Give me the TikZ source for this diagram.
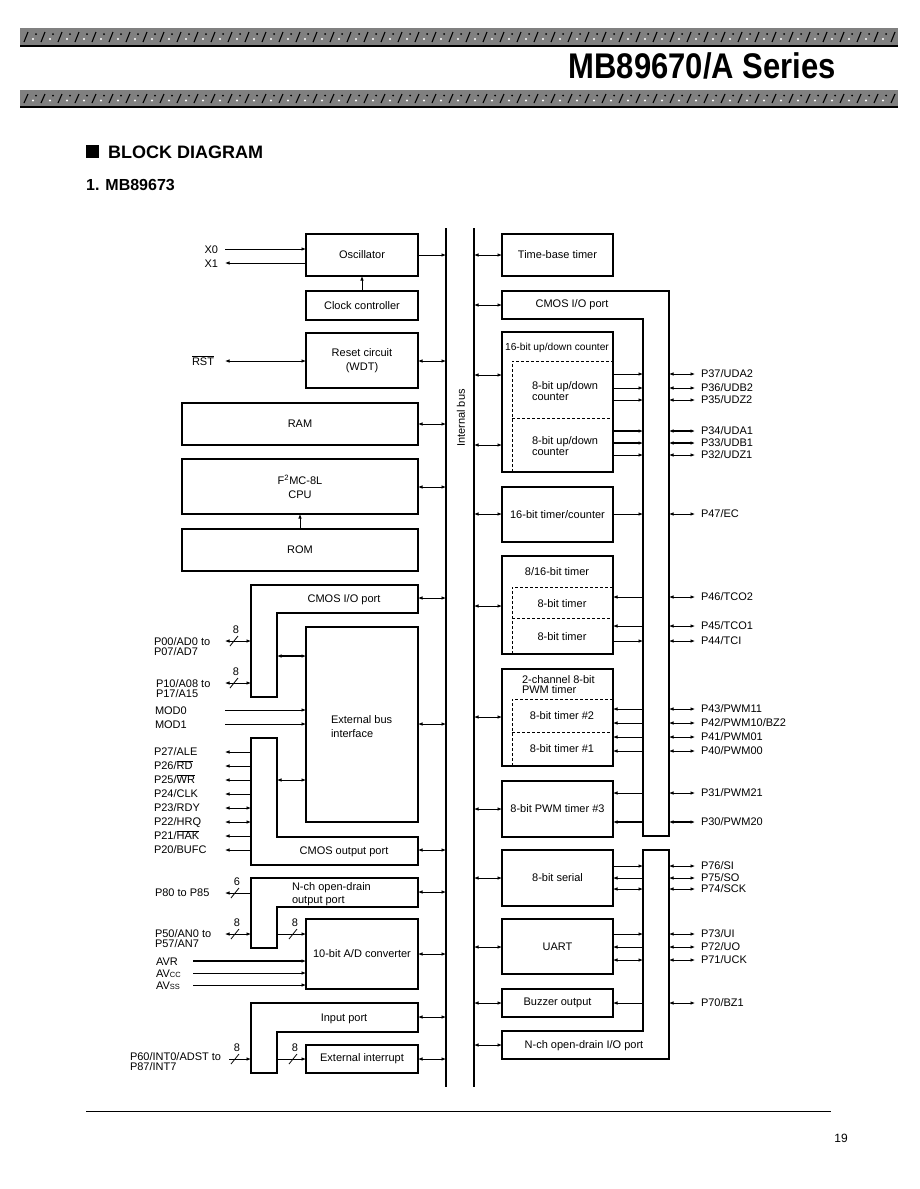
\documentclass[tikz,border=0pt]{standalone}
\usepackage{fontspec}
\setmainfont{Liberation Sans}
\usetikzlibrary{arrows.meta}
\definecolor{barg}{RGB}{128,128,128}
\newcommand\fs{\fontsize{11}{14}\selectfont}
\newcommand\twol[3]{{\fontsize{11}{#1}\selectfont\begin{tabular}[t]{@{}l@{}}#2\\#3\end{tabular}}}
\newcommand\ovl[1]{$\overline{\mbox{#1}}$}
\newcommand\hl[4]{\draw[#1] (#2 |- 0,#4) -- (#3 |- 0,#4);}
\newcommand\slsh[4]{\draw[sig] (#1-4,#2+5) -- (#1+4,#2-5); \node[lbc] (#4) at (#1+2,#2-8) {#3};}
\newcommand\rpin[5]{\node[lb] (#1) at (701,#2+3.9) {#3}; \draw[#4,<->] (rpO |- 0,#2) -- (pinR |- 0,#2); \draw[#4,#5] (rpI |- 0,#2) -- (rbox |- 0,#2);}
\newcommand\lpin[5]{\node[lb] (#1) at (#2,#3+3.9) {#4}; \draw[sig,#5] (pinL |- 0,#3) -- (lpO |- 0,#3);}
\begin{document}
\begin{tikzpicture}[x=1pt,y=-1pt,>={Latex[length=4.5pt,width=3.6pt]},
 box/.style={draw,line width=1.7pt,inner sep=1pt,outer sep=0pt,anchor=north west,font=\fs,align=center},
 port/.style={draw,line width=1.7pt,line join=miter},
 sig/.style={line width=0.8pt},
 tsig/.style={line width=1.8pt},
 busline/.style={line width=2.5pt},
 dsh/.style={line width=0.8pt,dash pattern=on 3pt off 2pt},
 lb/.style={font=\fs,inner sep=0pt,outer sep=0pt,anchor=base west},
 lbe/.style={lb,anchor=base east},
 lbc/.style={lb,anchor=base},
 tx/.style={font=\fs,inner sep=0pt,outer sep=0pt},
]
\useasboundingbox[fill=white] (0,0) rectangle (919,1189);

% ---------- header ----------
\foreach \ya/\yb in {28/46,90/107}{
  \begin{scope}
  \clip (20,\ya) rectangle (898,\yb);
  \fill[barg] (20,\ya) rectangle (898,\yb);
  \foreach \i in {0,...,52}{
    \draw[line width=1.1pt] ({24+\i*17},{\yb-4}) -- ({28+\i*17},{\ya+4});
    \fill[white] ({33+\i*17},{(\ya+\yb)/2+2}) circle (1.1);
    \fill ({36+\i*17},{(\ya+\yb)/2-3}) circle (1.0);
  }
  \end{scope}
  \draw[line width=1.4pt] (20,\yb) -- (898,\yb);
}
\node[anchor=base east,inner sep=0pt,font=\fontsize{31}{31}\selectfont\bfseries] (ttl) at (836,78) {\scalebox{1}[1.15]{MB89670/A Series}};
\fill (86,145) rectangle (99,158);
\node[anchor=base west,inner sep=0pt,font=\fontsize{18}{18}\selectfont\bfseries] (bd) at (108,158) {BLOCK DIAGRAM};
\node[anchor=base west,inner sep=0pt,font=\fontsize{16}{16}\selectfont\bfseries] (sub) at (86,190) {1. MB89673};

% ---------- reference coordinates ----------
\coordinate (busL) at (446,0);
\coordinate (busR) at (474,0);
\coordinate (lpR) at (418,0);
\coordinate (lpO) at (251,0);
\coordinate (lpI) at (277,0);
\coordinate (pinL) at (225,0);
\coordinate (pinL2) at (229,0);
\coordinate (avL) at (193,0);
\coordinate (rbox) at (613,0);
\coordinate (rbL) at (502,0);
\coordinate (rpI) at (643,0);
\coordinate (rpO) at (669,0);
\coordinate (pinR) at (695,0);

% ---------- internal bus ----------
\draw[busline] (446,228) -- (446,1087);
\draw[busline] (474,228) -- (474,1087);
\node[tx,rotate=90] (ib) at (461,418) {Internal bus};

% ---------- left blocks ----------
\node[box,minimum width=112pt,minimum height=42pt] (osc) at (306,234) {Oscillator};
\node[box,minimum width=112pt,minimum height=29pt] (clk) at (306,291) {Clock controller};
\node[box,minimum width=112pt,minimum height=55pt] (rst) at (306,333) {Reset circuit\\(WDT)};
\node[box,minimum width=236pt,minimum height=42pt] (ram) at (182,403) {RAM};
\node[box,minimum width=236pt,minimum height=55pt] (cpu) at (182,459) {F\textsuperscript{2}MC-8L\\CPU};
\node[box,minimum width=236pt,minimum height=42pt] (rom) at (182,529) {ROM};
\node[box,minimum width=112pt,minimum height=195pt] (ebi) at (306,627) {};
\node[lb] (ebit) at (331,723) {\twol{14}{External bus}{interface}};
\node[box,minimum width=112pt,minimum height=70pt] (adc) at (306,919) {10-bit A/D converter};
\node[box,minimum width=112pt,minimum height=28pt] (eint) at (306,1045) {External interrupt};

% left L-shaped ports
\draw[port] (251,585) -- (418,585) -- (418,613) -- (277,613) -- (277,697) -- (251,697) -- cycle;
\node[tx] (iopl) at (344,600) {CMOS I/O port};
\draw[port] (251,738) -- (277,738) -- (277,837) -- (418,837) -- (418,865) -- (251,865) -- cycle;
\node[tx] (oopl) at (344,852) {CMOS output port};
\draw[port] (251,878) -- (418,878) -- (418,907) -- (277,907) -- (277,948) -- (251,948) -- cycle;
\node[lb] (nopl) at (292,890) {\twol{13}{N-ch open-drain}{output port}};
\draw[port] (251,1003) -- (418,1003) -- (418,1032) -- (277,1032) -- (277,1073) -- (251,1073) -- cycle;
\node[tx] (inpl) at (344,1019) {Input port};

% left bus connectors
\hl{sig,->}{osc.east}{busL}{255}
\hl{sig,<->}{rst.east}{busL}{361}
\hl{sig,<->}{ram.east}{busL}{424}
\hl{sig,<->}{cpu.east}{busL}{487}
\hl{sig,<->}{lpR}{busL}{598}
\hl{sig,<->}{ebi.east}{busL}{724}
\hl{sig,<->}{lpR}{busL}{850}
\hl{sig,<->}{lpR}{busL}{892}
\hl{sig,<->}{adc.east}{busL}{954}
\hl{sig,<->}{lpR}{busL}{1017}
\hl{sig,<->}{eint.east}{busL}{1059}

% internal left links
\draw[sig,->] (clk.north) -- (osc.south);
\draw[sig,->] (rom.north) -- (cpu.south);
\hl{tsig,<->}{lpI}{ebi.west}{656}
\hl{sig,<->}{lpI}{ebi.west}{780}
\hl{sig,->}{lpI}{adc.west}{934}
\slsh{293}{934}{8}{n5}
\hl{sig,->}{lpI}{eint.west}{1059}
\slsh{293}{1059}{8}{n7}

% left pins
\node[lbe] (x0) at (218,253) {X0};
\hl{sig,->}{pinL}{osc.west}{249}
\node[lbe] (x1) at (218,267) {X1};
\hl{sig,<-}{pinL}{osc.west}{263}
\node[lbe] (rstp) at (214,365) {\ovl{RST}};
\hl{sig,<->}{pinL}{rst.west}{361}

\node[lb] (p00) at (154,645) {\twol{10}{P00/AD0 to}{P07/AD7}};
\hl{sig,<->}{pinL}{lpO}{641}
\slsh{234}{641}{8}{n1}
\node[lb] (p10) at (156,687) {\twol{10}{P10/A08 to}{P17/A15}};
\hl{sig,<->}{pinL}{lpO}{683}
\slsh{234}{683}{8}{n2}

\node[lb] (mod0) at (155,714) {MOD0};
\hl{sig,->}{pinL}{ebi.west}{710}
\node[lb] (mod1) at (155,728) {MOD1};
\hl{sig,->}{pinL}{ebi.west}{724}

\lpin{p27}{154}{752}{P27/ALE}{<-}
\lpin{p26}{154}{766}{P26/\ovl{RD}}{<-}
\lpin{p25}{154}{780}{P25/\ovl{WR}}{<-}
\lpin{p24}{154}{794}{P24/CLK}{<-}
\lpin{p23}{154}{808}{P23/RDY}{<->}
\lpin{p22}{154}{822}{P22/HRQ}{<->}
\lpin{p21}{154}{836}{P21/\ovl{HAK}}{<-}
\lpin{p20}{154}{850}{P20/BUFC}{<-}

\lpin{p80}{155}{893}{P80 to P85}{<-}
\slsh{235}{893}{6}{n3}
\node[lb] (p50) at (155,937) {\twol{10}{P50/AN0 to}{P57/AN7}};
\hl{sig,<->}{pinL}{lpO}{934}
\slsh{235}{934}{8}{n4}

\node[lb] (avr) at (156,965) {AVR};
\hl{tsig,->}{avL}{adc.west}{961}
\node[lb] (avcc) at (156,977) {AV\raisebox{-0.5pt}{\fontsize{7.5}{7.5}\selectfont CC}};
\hl{sig,->}{avL}{adc.west}{973}
\node[lb] (avss) at (156,989) {AV\raisebox{-0.5pt}{\fontsize{7.5}{7.5}\selectfont SS}};
\hl{sig,->}{avL}{adc.west}{985}

\node[lb] (p60) at (130,1060) {\twol{10}{P60/INT0/ADST to}{P87/INT7}};
\hl{sig,->}{pinL2}{lpO}{1059}
\slsh{235}{1059}{8}{n6}

% ---------- right blocks ----------
\node[box,minimum width=111pt,minimum height=42pt] (tbt) at (502,234) {Time-base timer};
\draw[port] (502,291) -- (669,291) -- (669,836) -- (643,836) -- (643,319) -- (502,319) -- cycle;
\node[tx] (iopr) at (572,305) {CMOS I/O port};

\node[box,minimum width=111pt,minimum height=140pt] (udc) at (502,332) {};
\node[tx,font=\fontsize{10.2}{12}\selectfont] (udct) at (557,348) {16-bit up/down counter};
\draw[dsh] (512,472) -- (512,361) -- (613,361);
\draw[dsh] (512,418) -- (613,418);
\node[lb] (udc1) at (532,389) {\twol{11}{8-bit up/down}{counter}};
\node[lb] (udc2) at (532,444) {\twol{11}{8-bit up/down}{counter}};

\node[box,minimum width=111pt,minimum height=55pt] (tc16) at (502,487) {16-bit timer/counter};

\node[box,minimum width=111pt,minimum height=98pt] (t816) at (502,556) {};
\node[tx] (t816t) at (557,572) {8/16-bit timer};
\draw[dsh] (512,654) -- (512,587) -- (613,587);
\draw[dsh] (512,618) -- (613,618);
\node[tx] (t816a) at (562,604) {8-bit timer};
\node[tx] (t816b) at (562,637) {8-bit timer};

\node[box,minimum width=111pt,minimum height=97pt] (pwm) at (502,669) {};
\node[lb] (pwmt) at (522,683) {\twol{10}{2-channel 8-bit}{PWM timer}};
\draw[dsh] (512,766) -- (512,699) -- (613,699);
\draw[dsh] (512,732) -- (613,732);
\node[tx] (pwm2) at (562,716) {8-bit timer \#2};
\node[tx] (pwm1) at (562,749) {8-bit timer \#1};

\node[box,minimum width=111pt,minimum height=56pt] (pwm3) at (502,781) {8-bit PWM timer \#3};
\node[box,minimum width=111pt,minimum height=56pt] (ser) at (502,850) {8-bit serial};
\node[box,minimum width=111pt,minimum height=55pt] (uart) at (502,919) {UART};
\node[box,minimum width=111pt,minimum height=28pt] (buz) at (502,989) {Buzzer output};
\draw[port] (643,850) -- (669,850) -- (669,1059) -- (502,1059) -- (502,1031) -- (643,1031) -- cycle;
\node[tx] (niot) at (584,1046) {N-ch open-drain I/O port};

% right bus connectors
\hl{sig,<->}{busR}{tbt.west}{255}
\hl{sig,<->}{busR}{rbL}{305}
\hl{sig,<->}{busR}{udc.west}{375}
\hl{sig,<->}{busR}{udc.west}{445}
\hl{sig,<->}{busR}{tc16.west}{514}
\hl{sig,<->}{busR}{t816.west}{606}
\hl{sig,<->}{busR}{pwm.west}{717}
\hl{sig,<->}{busR}{pwm3.west}{809}
\hl{sig,<->}{busR}{ser.west}{878}
\hl{sig,<->}{busR}{uart.west}{947}
\hl{sig,<->}{busR}{buz.west}{1003}
\hl{sig,<->}{busR}{rbL}{1045}

% right pins
\rpin{p37}{374}{P37/UDA2}{sig}{<-}
\rpin{p36}{388}{P36/UDB2}{sig}{<-}
\rpin{p35}{400}{P35/UDZ2}{sig}{<-}
\rpin{p34}{431}{P34/UDA1}{tsig}{<-}
\rpin{p33}{443}{P33/UDB1}{tsig}{<-}
\rpin{p32}{455}{P32/UDZ1}{sig}{<-}
\rpin{p47}{514}{P47/EC}{sig}{<-}
\rpin{p46}{597}{P46/TCO2}{sig}{->}
\rpin{p45}{626}{P45/TCO1}{sig}{->}
\rpin{p44}{641}{P44/TCI}{sig}{<-}
\rpin{p43}{709}{P43/PWM11}{sig}{->}
\rpin{p42}{723}{P42/PWM10/BZ2}{sig}{->}
\rpin{p41}{737}{P41/PWM01}{sig}{->}
\rpin{p40}{751}{P40/PWM00}{sig}{->}
\rpin{p31}{793}{P31/PWM21}{sig}{->}
\rpin{p30}{822}{P30/PWM20}{tsig}{->}
\rpin{p76}{866}{P76/SI}{sig}{<-}
\rpin{p75}{878}{P75/SO}{sig}{->}
\rpin{p74}{889}{P74/SCK}{sig}{<->}
\rpin{p73}{934}{P73/UI}{sig}{<-}
\rpin{p72}{947}{P72/UO}{sig}{->}
\rpin{p71}{960}{P71/UCK}{sig}{<->}
\rpin{p70}{1003}{P70/BZ1}{sig}{->}

% ---------- footer ----------
\draw[line width=0.9pt] (86,1111) -- (831,1111);
\node[anchor=base,inner sep=0pt,font=\fontsize{12}{12}\selectfont] (pg) at (841,1142) {19};
\end{tikzpicture}
\end{document}
